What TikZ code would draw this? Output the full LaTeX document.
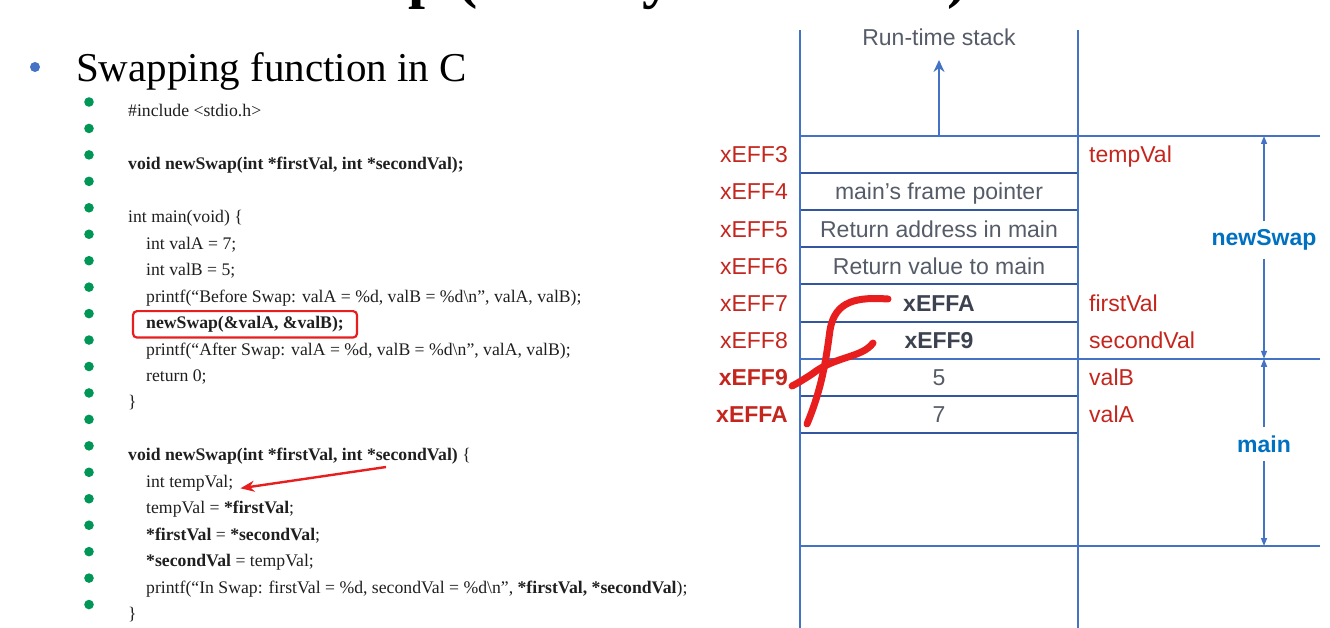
\documentclass[tikz,border=0pt]{standalone}
\usepackage{fontspec}
\setmainfont{Liberation Serif}
\setsansfont{Liberation Sans}
\usetikzlibrary{positioning, arrows.meta, fit, calc}
\definecolor{stackblue}{RGB}{68,114,196}
\definecolor{rowline}{RGB}{52,86,160}
\definecolor{addrred}{RGB}{196,38,30}
\definecolor{cellgray}{RGB}{85,92,104}
\definecolor{ptrgray}{RGB}{60,66,80}
\definecolor{framelbl}{RGB}{0,112,192}
\definecolor{dotgreen}{RGB}{0,150,85}
\definecolor{inkred}{RGB}{232,30,30}
\newcommand{\ptr}[1]{\textbf{\color{ptrgray}#1}}

\begin{document}
\begin{tikzpicture}[x=1pt, y=-1pt,
  code/.style={anchor=base west, inner sep=0pt, text=black!88,
               font=\fontsize{17.7}{20}\selectfont},
  cell/.style={draw=rowline, line width=2pt, minimum width=278pt,
               minimum height=37.125pt, inner sep=0pt, text=cellgray,
               text height=16.5pt, text depth=0pt,
               font=\sffamily\fontsize{23}{26}\selectfont},
  addr/.style={anchor=east, inner sep=0pt, text=addrred,
               text height=16.5pt, text depth=0pt,
               font=\sffamily\fontsize{23}{26}\selectfont},
  varname/.style={anchor=west, inner sep=0pt, text=addrred,
                  text height=16.5pt, text depth=0pt,
                  font=\sffamily\fontsize{23}{26}\selectfont},
  framelabel/.style={text=framelbl, inner xsep=0pt, inner ysep=8pt,
                     font=\sffamily\bfseries\fontsize{23}{26}\selectfont},
  wall/.style={draw=stackblue, line width=2pt},
  dim/.style={draw=stackblue, line width=1.4pt, -{Triangle[length=8pt,width=6pt]}},
  callbox/.style={draw=inkred, line width=2.2pt, rounded corners=4pt,
                  inner xsep=13pt, inner ysep=5pt},
  inkarrow/.style={draw=inkred, line width=2.4pt, -{Stealth[length=14pt,width=11pt]}},
  ink/.style={draw=inkred, line width=7pt, line cap=round},
]
\clip (0,0) rectangle (1330,628);

% slide text
\node[anchor=base west, inner sep=0pt, font=\bfseries\fontsize{61}{64}\selectfont]
  (title) at (300,-3) {Swap (Pass by Reference)};
\fill[stackblue] (35,67) circle (5pt);
\node[anchor=base west, inner sep=0pt, font=\fontsize{41}{44}\selectfont]
  (heading) at (76,82) {Swapping function in C};
\foreach \k in {0,...,19}{
  \pgfmathsetmacro{\y}{102+\k*26.45}
  \fill[dotgreen] (89,\y) circle (4.8pt);
}

\node[code] (c1) at (128,117) {\#include <stdio.h>};
\node[code] (c3) at (128,169.9) {\textbf{void newSwap(int *firstVal, int *secondVal);}};
\node[code] (c5) at (128,222.8) {int main(void) \{};
\node[code] (c6) at (146,249.25) {int valA = 7;};
\node[code] (c7) at (146,275.7) {int valB = 5;};
\node[code] (c8) at (146,302.15) {printf(“Before Swap: valA = \%d, valB = \%d\textbackslash n”, valA, valB);};
\node[code] (c9) at (146,328.6) {\textbf{newSwap(\&valA, \&valB);}};
\node[code] (c10) at (146,355.05) {printf(“After Swap: valA = \%d, valB = \%d\textbackslash n”, valA, valB);};
\node[code] (c11) at (146,381.5) {return 0;};
\node[code] (c12) at (128,407.95) {\}};
\node[code] (c14) at (128,460.85) {\textbf{void newSwap(int *firstVal, int *secondVal)} \{};
\node[code] (c15) at (146,487.3) {int tempVal;};
\node[code] (c16) at (146,513.75) {tempVal = \textbf{*firstVal};};
\node[code] (c17) at (146,540.2) {\textbf{*firstVal} = \textbf{*secondVal};};
\node[code] (c18) at (146,566.65) {\textbf{*secondVal} = tempVal;};
\node[code] (c19) at (146,593.1) {printf(“In Swap: firstVal = \%d, secondVal = \%d\textbackslash n”, \textbf{*firstVal, *secondVal});};
\node[code] (c20) at (128,619.55) {\}};

% annotations on the code
\node[callbox, fit=(c9)] (c9box) {};
\coordinate (noteTail) at (386,467);
\draw[inkarrow] (noteTail) -- ($(c15.base east)+(7,1)$);

% run-time stack
\foreach \i/\addr/\cell/\var in {0/xEFF3//tempVal,
    1/xEFF4/main’s frame pointer/, 2/xEFF5/Return address in main/,
    3/xEFF6/Return value to main/, 4/xEFF7/\ptr{xEFFA}/firstVal,
    5/xEFF8/\ptr{xEFF9}/secondVal, 6/\textbf{xEFF9}/5/valB,
    7/\textbf{xEFFA}/7/valA}{
  \pgfmathsetmacro{\y}{154.5625+\i*37.125}
  \node[cell] (row\i) at (939,\y) {\cell};
  \node[addr] (addr\i) at (788,\y) {\addr};
  \node[varname] (var\i) at (1089,\y) {\var};
}
\draw[wall] (800,30) -- (800,628);
\draw[wall] (1078,30) -- (1078,628);
\draw[wall] (800,136) -- (1320,136);
\draw[wall] (800,358.75) -- (1320,358.75);
\draw[wall] (800,546) -- (1320,546);

\node[text=cellgray, font=\sffamily\fontsize{23}{26}\selectfont] (rts) at (939,37) {Run-time stack};
\draw[wall, line width=2.4pt, -{Stealth[length=12pt,width=11pt]}, shorten >=11pt]
  (row0.north) -- (rts.south);

% frame extents
\coordinate (nsTop) at (1264,136);
\coordinate (frameMid) at (1264,358.75);
\coordinate (mainBot) at (1264,546);
\node[framelabel] (nsLbl) at (1264,240) {newSwap};
\node[framelabel] (mainLbl) at (1264,444) {main};
\draw[dim] (nsLbl) -- (nsTop);
\draw[dim] (nsLbl) -- (frameMid);
\draw[dim] (mainLbl) -- (frameMid);
\draw[dim] (mainLbl) -- (mainBot);

% hand-drawn strokes
\draw[ink] (888,299) .. controls (858,297) and (835,300) .. (830,330)
  .. controls (826,360) and (822,388) .. (807,424);
\draw[ink] (873,343) .. controls (862,358) and (835,356) .. (812,374)
  .. controls (803,380) and (796,384) .. (792,386);
\end{tikzpicture}
\end{document}
